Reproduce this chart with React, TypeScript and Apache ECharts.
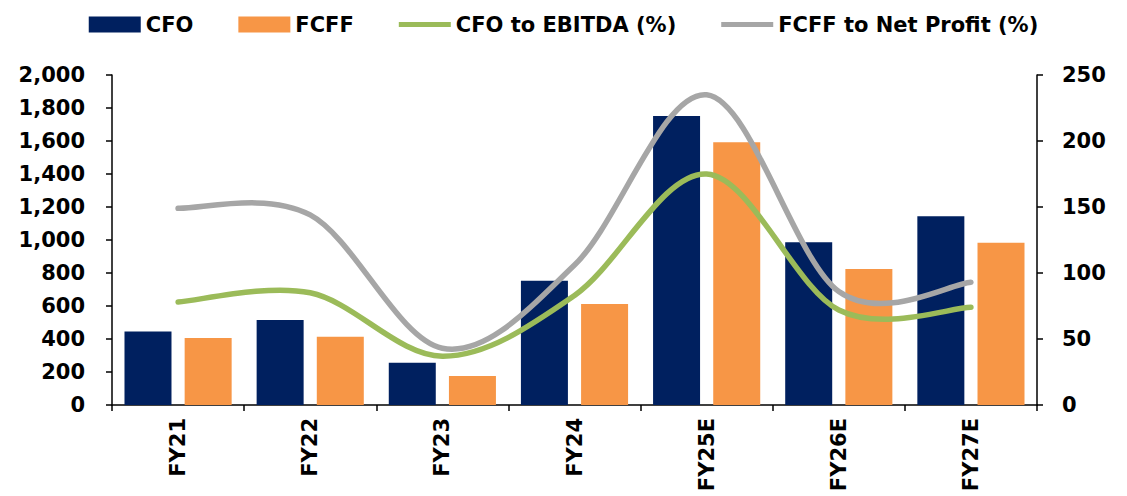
import React, { useEffect, useRef } from "react";
import * as echarts from "echarts";

const categories = ["FY21", "FY22", "FY23", "FY24", "FY25E", "FY26E", "FY27E"];
const cfo = [445, 515, 256, 753, 1752, 986, 1144];
const fcff = [406, 414, 176, 612, 1592, 824, 984];
const cfoToEbitda = [78, 85, 37, 83, 175, 72, 74];
const fcffToNetProfit = [149, 144, 43, 106, 235, 86, 93];

const FONT = "DejaVu Sans";
const LINE_ICON = "path://M0,0L0,0M0,5.5L52,5.5L52,10.5L0,10.5ZM52,16L52,16";

function smoothLineSeries(name: string, values: number[], color: string) {
  return {
    name,
    type: "custom",
    yAxisIndex: 1,
    coordinateSystem: "cartesian2d",
    data: values.map((v, i) => [i, v]),
    encode: { x: 0, y: 1 },
    itemStyle: { color },
    z: 3,
    renderItem: (params: any, api: any) => {
      if (params.dataIndex !== 0) return null;
      const pts = values.map((v, i) => api.coord([i, v]));
      const n = pts.length;
      let d = `M${pts[0][0]},${pts[0][1]}`;
      for (let i = 0; i < n - 1; i++) {
        const p0 = pts[Math.max(0, i - 1)];
        const p1 = pts[i];
        const p2 = pts[i + 1];
        const p3 = pts[Math.min(n - 1, i + 2)];
        const c1x = p1[0] + (p2[0] - p0[0]) / 6;
        const c1y = p1[1] + (p2[1] - p0[1]) / 6;
        const c2x = p2[0] - (p3[0] - p1[0]) / 6;
        const c2y = p2[1] - (p3[1] - p1[1]) / 6;
        d += ` C${c1x},${c1y} ${c2x},${c2y} ${p2[0]},${p2[1]}`;
      }
      return {
        type: "path",
        shape: { pathData: d },
        style: { stroke: color, lineWidth: 5.5, fill: "none", lineCap: "round", lineJoin: "round" },
      };
    },
  };
}

export default function App() {
  const ref = useRef<HTMLDivElement>(null);
  useEffect(() => {
    if (!ref.current) return;
    const chart = echarts.init(ref.current, undefined, { renderer: "svg" });
    const axisText = { color: "#000", fontFamily: FONT, fontWeight: "bold" as const, fontSize: 21 };
    chart.setOption({
      animation: false,
      backgroundColor: "#fff",
      textStyle: { fontFamily: FONT },
      legend: {
        top: 9,
        left: "center",
        itemGap: 45,
        itemWidth: 52,
        itemHeight: 16,
        textStyle: { ...axisText },
        data: [
          { name: "CFO", icon: "rect" },
          { name: "FCFF", icon: "rect" },
          { name: "CFO to EBITDA (%)", icon: LINE_ICON, itemStyle: { color: "#9BBB59" } },
          { name: "FCFF to Net Profit (%)", icon: LINE_ICON, itemStyle: { color: "#A6A6A6" } },
        ],
      },
      grid: { left: 112, right: 90, top: 75, bottom: 91 },
      xAxis: {
        type: "category",
        data: categories,
        axisLine: { lineStyle: { color: "#000", width: 1.5 } },
        axisTick: { show: true, length: 6, lineStyle: { color: "#000", width: 1.5 } },
        axisLabel: { ...axisText, rotate: 90, margin: 13 },
      },
      yAxis: [
        {
          type: "value",
          min: 0,
          max: 2000,
          interval: 200,
          splitLine: { show: false },
          axisLine: { show: true, lineStyle: { color: "#000", width: 1.5 } },
          axisTick: { show: true, length: 6, lineStyle: { color: "#000", width: 1.5 } },
          axisLabel: {
            ...axisText,
            margin: 27,
            formatter: (v: number) => v.toLocaleString("en-US"),
          },
        },
        {
          type: "value",
          min: 0,
          max: 250,
          interval: 50,
          position: "right",
          splitLine: { show: false },
          axisLine: { show: true, lineStyle: { color: "#000", width: 1.5 } },
          axisTick: { show: true, length: 6, lineStyle: { color: "#000", width: 1.5 } },
          axisLabel: { ...axisText, margin: 25 },
        },
      ],
      series: [
        {
          name: "CFO",
          type: "bar",
          data: cfo,
          barWidth: 47,
          barGap: "28%",
          itemStyle: { color: "#00205F" },
        },
        {
          name: "FCFF",
          type: "bar",
          data: fcff,
          barWidth: 47,
          itemStyle: { color: "#F79646" },
        },
        smoothLineSeries("CFO to EBITDA (%)", cfoToEbitda, "#9BBB59"),
        smoothLineSeries("FCFF to Net Profit (%)", fcffToNetProfit, "#A6A6A6"),
      ],
    });
    return () => chart.dispose();
  }, []);
  return (
    <div
      ref={ref}
      style={{ position: "fixed", left: 0, top: 0, width: 1127, height: 496 }}
    />
  );
}
